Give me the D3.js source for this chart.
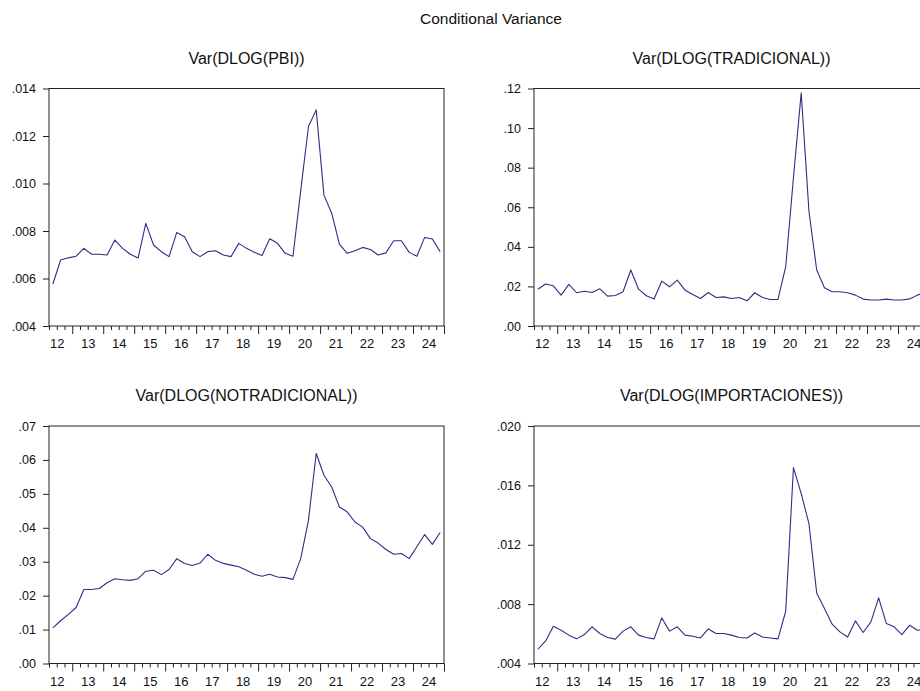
<!DOCTYPE html>
<html>
<head>
<meta charset="utf-8">
<script src="https://cdn.jsdelivr.net/npm/d3@7"></script>
<style>
  html, body { margin: 0; padding: 0; background: #fff; }
  svg { display: block; }
  text { font-family: "Liberation Sans", Arial, sans-serif; fill: #111; }
</style>
</head>
<body>
<svg id="chart" width="920" height="691"></svg>
<script>
// Quarterly sample: 2012Q2 .. 2024Q4 (51 observations)
const startYear = 2012;
const startQuarter = 2;
const nObs = 51;
const periods = d3.range(nObs).map(i => {
  const q = startQuarter - 1 + i;
  return (startYear + Math.floor(q / 4)) + "Q" + (q % 4 + 1);
});

const yearLabels = ["12", "13", "14", "15", "16", "17", "18", "19", "20", "21", "22", "23", "24"];

const mainTitle = "Conditional Variance";
const panelTitles = ["Var(DLOG(PBI))", "Var(DLOG(TRADICIONAL))", "Var(DLOG(NOTRADICIONAL))", "Var(DLOG(IMPORTACIONES))"];

const varPBI = [
  .00577, .00678, .00687, .00694, .00727, .00702, .00702, .00699, .00762, .00727,
  .00702, .00686, .00832, .00741, .00713, .00692, .00794, .00776, .00713, .00692,
  .00713, .00717, .00699, .00692, .00748, .00727, .00711, .00697, .00767, .00748,
  .00706, .00694, .00970, .01240, .01310, .00951, .00875, .00745, .00706, .00717,
  .00731, .00722, .00699, .00708, .00759, .00759, .00710, .00694, .00773, .00766, .00713
];

const varTradicional = [
  .0186, .0212, .0203, .0156, .0210, .0168, .0176, .0169, .0188, .0151,
  .0154, .0173, .0283, .0186, .0153, .0136, .0227, .0198, .0232, .0181,
  .0159, .0139, .0169, .0144, .0147, .0139, .0144, .0127, .0168, .0144,
  .0134, .0134, .0300, .0750, .1178, .0580, .0283, .0193, .0173, .0173,
  .0168, .0156, .0136, .0131, .0131, .0136, .0131, .0131, .0137, .0156, .0170
];

const varNoTradicional = [
  .0105, .0126, .0145, .0165, .0218, .0218, .0221, .0238, .0250, .0247,
  .0245, .0250, .0272, .0275, .0262, .0277, .0309, .0295, .0289, .0296,
  .0322, .0304, .0295, .0290, .0285, .0275, .0263, .0257, .0263, .0255,
  .0253, .0248, .0309, .0422, .0619, .0555, .0520, .0461, .0447, .0417,
  .0402, .0368, .0355, .0336, .0322, .0324, .0309, .0344, .0380, .0351, .0386
];

const varImportaciones = [
  .00496, .00552, .00651, .00624, .00591, .00566, .00595, .00647, .00602, .00575,
  .00564, .00618, .00647, .00591, .00575, .00566, .00707, .00618, .00647, .00591,
  .00584, .00572, .00633, .00602, .00602, .00591, .00575, .00572, .00606, .00579,
  .00572, .00566, .00752, .01720, .01545, .01343, .00875, .00770, .00665, .00613,
  .00579, .00687, .00609, .00680, .00842, .00669, .00647, .00595, .00658, .00624, .00630
];

// y-axis tick values for each panel
const ticksPBI = [.004, .006, .008, .010, .012, .014];
const ticksTradicional = [.00, .02, .04, .06, .08, .10, .12];
const ticksNoTradicional = [.00, .01, .02, .03, .04, .05, .06, .07];
const ticksImportaciones = [.004, .008, .012, .016, .020];

const panels = [
  { title: panelTitles[0], values: varPBI, ticks: ticksPBI, digits: 3, col: 0, row: 0 },
  { title: panelTitles[1], values: varTradicional, ticks: ticksTradicional, digits: 2, col: 1, row: 0 },
  { title: panelTitles[2], values: varNoTradicional, ticks: ticksNoTradicional, digits: 2, col: 0, row: 1 },
  { title: panelTitles[3], values: varImportaciones, ticks: ticksImportaciones, digits: 3, col: 1, row: 1 }
];

const svg = d3.select("#chart");
const plotW = 395, plotH = 237.5;
const colX = [49, 534];
const rowY = [88.5, 426];
const lineColor = "#2e2e86";

svg.append("text")
  .attr("x", 491).attr("y", 24)
  .attr("text-anchor", "middle")
  .style("font-size", "15.5px")
  .text(mainTitle);

panels.forEach(p => {
  const g = svg.append("g")
    .attr("transform", `translate(${colX[p.col]},${rowY[p.row]})`);

  const x = d3.scaleLinear().domain([-0.5, nObs - 0.5]).range([0, plotW]);
  const y = d3.scaleLinear()
    .domain([p.ticks[0], p.ticks[p.ticks.length - 1]])
    .range([plotH, 0]);

  // panel title
  g.append("text")
    .attr("x", plotW / 2).attr("y", -25)
    .attr("text-anchor", "middle")
    .style("font-size", "16px")
    .text(p.title);

  // y axis
  const fmt = v => d3.format("." + p.digits + "f")(v).replace(/^0/, "");
  const yAxis = g.append("g")
    .call(d3.axisLeft(y).tickValues(p.ticks).tickSize(6).tickPadding(7).tickFormat(fmt));
  yAxis.select(".domain").remove();
  yAxis.selectAll("line").attr("stroke", "#222");
  yAxis.selectAll("text").style("font-size", "12.5px").style("font-family", "'Liberation Sans', Arial, sans-serif").attr("fill", "#111");

  // x axis: quarter boundaries (minor) and year boundaries (major)
  const boundaries = d3.range(-0.5, nObs, 1);
  const isYearStart = b => {
    const q = startQuarter - 1 + (b + 0.5);
    return q % 4 === 0;
  };
  const xMinor = g.append("g")
    .attr("transform", `translate(0,${plotH})`)
    .call(d3.axisBottom(x).tickValues(boundaries.filter(b => !isYearStart(b))).tickSize(4).tickFormat(""));
  xMinor.select(".domain").remove();
  const xMajor = g.append("g")
    .attr("transform", `translate(0,${plotH})`)
    .call(d3.axisBottom(x).tickValues(boundaries.filter(isYearStart)).tickSize(8).tickFormat(""));
  xMajor.select(".domain").remove();
  g.selectAll(".tick line").attr("stroke", "#222");

  // year labels centred on each calendar year
  const yearCenters = yearLabels.map((_, k) => 4 * k - (startQuarter - 1) + 1.5);
  const xLab = g.append("g")
    .attr("transform", `translate(0,${plotH})`)
    .call(d3.axisBottom(x).tickValues(yearCenters).tickSize(0).tickPadding(13)
      .tickFormat((d, k) => yearLabels[k]));
  xLab.select(".domain").remove();
  xLab.selectAll("text").style("font-size", "13px").style("font-family", "'Liberation Sans', Arial, sans-serif").attr("fill", "#111");

  // frame
  g.append("rect")
    .attr("x", 0).attr("y", 0).attr("width", plotW).attr("height", plotH)
    .attr("fill", "none").attr("stroke", "#222").attr("stroke-width", 1);

  // series
  g.append("path")
    .datum(p.values)
    .attr("fill", "none")
    .attr("stroke", lineColor)
    .attr("stroke-width", 1.1)
    .attr("stroke-linejoin", "round")
    .attr("d", d3.line().x((d, i) => x(i)).y(d => y(d)));
});
</script>
</body>
</html>
